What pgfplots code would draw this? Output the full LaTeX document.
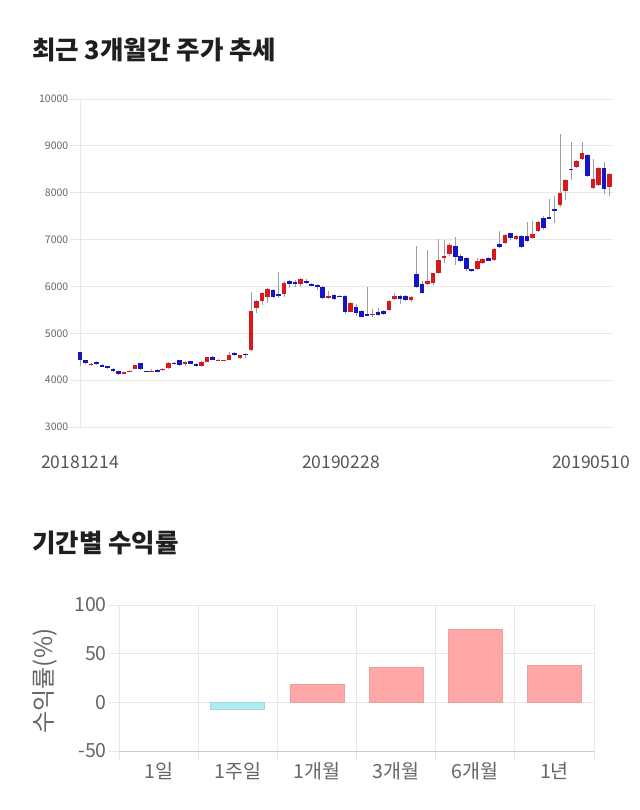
\documentclass[border=0pt]{standalone}
\usepackage{fontspec}
\setmainfont{Noto Sans CJK KR}
\usepackage{pgfplots}
\pgfplotsset{compat=1.18}
\usepackage{pgfplotstable}
\definecolor{upred}{HTML}{D7191C}
\definecolor{dnblue}{HTML}{1414C8}
\definecolor{gridc}{HTML}{E8E8E8}
\definecolor{txt}{HTML}{666666}
\definecolor{txtd}{HTML}{555555}
\definecolor{barpos}{HTML}{FFA6A6}
\definecolor{barposedge}{HTML}{E8A0A0}
\definecolor{barneg}{HTML}{B0EAF2}
\definecolor{barnegedge}{HTML}{9FD9E2}

\pgfplotstableread{
i o h l c
0 4600 4610 4300 4420
1 4420 4430 4340 4370
2 4330 4370 4310 4350
3 4390 4400 4330 4350
4 4315 4340 4280 4300
5 4290 4310 4240 4275
6 4240 4250 4170 4190
7 4190 4200 4110 4130
8 4150 4180 4140 4170
9 4180 4220 4170 4200
10 4245 4330 4230 4317
11 4360 4370 4220 4230
12 4195 4200 4170 4180
13 4185 4230 4170 4200
14 4210 4240 4170 4180
15 4215 4260 4200 4245
16 4250 4380 4240 4365
17 4370 4390 4340 4355
18 4420 4430 4300 4330
19 4360 4400 4300 4380
20 4400 4410 4340 4350
21 4350 4360 4290 4300
22 4300 4400 4290 4390
23 4395 4500 4380 4487
24 4500 4510 4430 4440
25 4410 4450 4400 4440
26 4410 4440 4400 4430
27 4440 4600 4430 4535
28 4585 4600 4520 4530
29 4465 4540 4450 4530
30 4555 4570 4470 4540
31 4635 5890 4630 5475
32 5530 5720 5440 5695
33 5690 5880 5610 5865
34 5770 5960 5650 5940
35 5925 5940 5760 5780
36 5830 6300 5760 5795
37 5830 6110 5780 6080
38 6110 6130 5970 6050
39 6090 6140 5990 6070
40 6060 6170 5990 6160
41 6120 6150 6060 6080
42 6050 6070 6000 6015
43 6030 6060 5930 5980
44 5990 6000 5740 5755
45 5755 5900 5740 5800
46 5815 5830 5700 5730
47 5800 5820 5770 5780
48 5800 5810 5420 5460
49 5460 5660 5450 5650
50 5565 5620 5370 5425
51 5480 5500 5340 5355
52 5410 5995 5380 5390
53 5385 5510 5350 5420
54 5460 5540 5360 5385
55 5470 5500 5380 5420
56 5505 5700 5480 5695
57 5730 5860 5700 5795
58 5800 5820 5620 5730
59 5800 5820 5680 5700
60 5700 5790 5670 5780
61 6265 6870 5960 5980
62 6050 6120 5840 5855
63 6045 6775 6030 6115
64 6065 6290 6030 6280
65 6280 7010 6260 6565
66 6620 6990 6500 6650
67 6685 6920 6650 6885
68 6865 7050 6460 6635
69 6650 6700 6530 6550
70 6600 6620 6340 6365
71 6365 6380 6310 6345
72 6365 6600 6350 6550
73 6495 6600 6480 6580
74 6605 6620 6540 6550
75 6565 6820 6550 6800
76 6900 7180 6820 6835
77 6920 7110 6900 7095
78 7130 7150 7000 7025
79 7010 7100 6990 7080
80 7075 7100 6830 6850
81 7080 7380 6950 6960
82 7035 7400 7020 7125
83 7190 7400 7170 7380
84 7465 7500 7200 7240
85 7480 7865 7430 7450
86 7645 7930 7350 7625
87 7730 9250 7700 8000
88 8035 8290 7840 8270
89 8510 9080 8280 8485
90 8540 8690 8520 8675
91 8715 9080 8700 8855
92 8805 8820 8340 8355
93 8105 8720 8090 8285
94 8160 8540 8140 8520
95 8520 8650 7970 8070
96 8130 8420 7930 8400
}\candles

\begin{document}
\begin{tikzpicture}
\fill[white] (0,0) rectangle (640bp,-810bp);
\path[use as bounding box] (0,0) rectangle (640bp,-810bp);

\node[anchor=base west, inner sep=0pt, font=\fontsize{25.5bp}{28bp}\selectfont\bfseries, text=black!88] at (32bp,-59bp) {최근 3개월간 주가 추세};
\node[anchor=base west, inner sep=0pt, font=\fontsize{25.5bp}{28bp}\selectfont\bfseries, text=black!88] at (32bp,-552bp) {기간별 수익률};

% ---------- candlestick chart ----------
\begin{axis}[
  at={(80bp,-427bp)}, anchor=south west,
  scale only axis, width=533bp, height=328bp,
  xmin=0, xmax=96.6, ymin=3000, ymax=10000,
  clip=false,
  scaled y ticks=false,
  axis lines*=left,
  axis line style={draw=gridc},
  ytick={3000,4000,...,10000},
  yticklabels={3000,4000,5000,6000,7000,8000,9000,10000},
  ymajorgrids, grid style={draw=gridc, line width=0.8bp},
  tick align=outside,
  major tick length=10bp,
  ytick style={draw=gridc, line width=0.8bp},
  yticklabel style={font=\fontsize{10.5bp}{12bp}\selectfont, text=txt, inner sep=1.5bp},
  xtick={0,47.3,92.6},
  xticklabels={20181214,20190228,20190510},
  xtick style={draw=none},
  xticklabel style={font=\fontsize{17.5bp}{20bp}\selectfont, text=txtd, anchor=north, yshift=-15bp},
]
% wicks
\addplot[draw=none, mark=none,
  error bars/.cd, y dir=both, y explicit, error mark=none,
  error bar style={draw=gray!75, line width=0.6bp}]
  table[x=i, y expr=(\thisrow{h}+\thisrow{l})/2, y error expr=(\thisrow{h}-\thisrow{l})/2] {\candles};
% up bodies
\addplot[draw=none, mark=none,
  restrict expr to domain={\thisrow{c}-\thisrow{o}}{0:100000},
  error bars/.cd, y dir=both, y explicit, error mark=none,
  error bar style={draw=upred, line width=4.6bp}]
  table[x=i, y expr=(\thisrow{o}+\thisrow{c})/2, y error expr={max(abs(\thisrow{c}-\thisrow{o})/2,12)}] {\candles};
% down bodies
\addplot[draw=none, mark=none,
  restrict expr to domain={\thisrow{c}-\thisrow{o}}{-100000:-0.001},
  error bars/.cd, y dir=both, y explicit, error mark=none,
  error bar style={draw=dnblue, line width=4.6bp}]
  table[x=i, y expr=(\thisrow{o}+\thisrow{c})/2, y error expr={max(abs(\thisrow{c}-\thisrow{o})/2,12)}] {\candles};
\end{axis}

% ---------- returns bar chart ----------
\node[rotate=90, font=\fontsize{24bp}{26bp}\selectfont, text=txt] at (45bp,-681bp) {수익률(\%)};
\begin{axis}[
  at={(119bp,-751bp)}, anchor=south west,
  scale only axis, width=475bp, height=146bp,
  xmin=-0.5, xmax=5.5, ymin=-50, ymax=100,
  axis lines*=left,
  axis line style={draw=gridc},
  x axis line style={draw=gray!40},
  xtick={0,1,2,3,4,5},
  xticklabels={1일,1주일,1개월,3개월,6개월,1년},
  minor xtick={-0.5,0.5,1.5,2.5,3.5,4.5,5.5},
  xminorgrids, minor grid style={draw=gridc, line width=0.8bp},
  ytick={-50,0,50,100},
  yticklabels={-50,0,50,100},
  ymajorgrids, major grid style={draw=gridc, line width=0.8bp},
  extra y ticks={0}, extra y tick labels={},
  extra y tick style={grid style={draw=gray!45, line width=0.8bp}, major tick length=0pt},
  tick align=outside,
  major tick length=10bp, minor tick length=10bp,
  major x tick style={draw=none},
  minor x tick style={draw=gridc, line width=0.8bp},
  ytick style={draw=gridc, line width=0.8bp},
  yticklabel style={font=\fontsize{19.5bp}{22bp}\selectfont, text=txt, inner sep=2bp},
  xticklabel style={font=\fontsize{19.5bp}{22bp}\selectfont, text=txt, anchor=north, yshift=2bp},
  ybar, bar width=54bp,
]
\addplot[bar shift=0pt, fill=barpos, draw=barposedge, line width=0.8bp]
  coordinates {(2,18.2) (3,35.6) (4,74.7) (5,37.7)};
\addplot[bar shift=0pt, fill=barneg, draw=barnegedge, line width=0.8bp]
  coordinates {(1,-7.0)};
\end{axis}
\end{tikzpicture}
\end{document}
